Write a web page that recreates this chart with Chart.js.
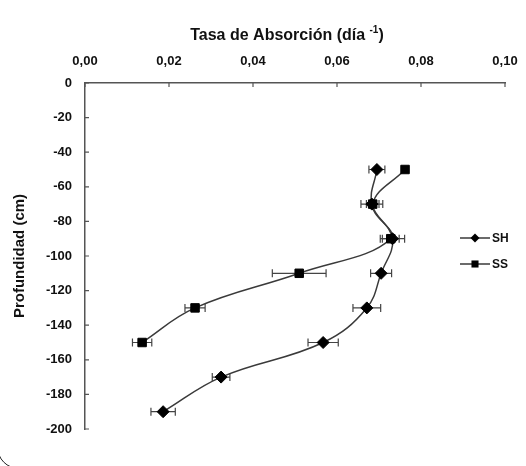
<!DOCTYPE html>
<html>
<head>
<meta charset="utf-8">
<script src="https://cdn.jsdelivr.net/npm/chart.js@4.4.1/dist/chart.umd.min.js"></script>
<style>
  html, body { margin: 0; padding: 0; background: #fff; overflow: hidden; }
  #wrap { position: relative; width: 526px; height: 466px; }
  #wrap canvas { position: absolute; left: 0; top: 0; }
  #frame {
    position: absolute; left: -3px; bottom: -3px; width: 640px; height: 640px;
    border: 1.5px solid #222; border-radius: 22px; box-sizing: border-box; pointer-events: none;
  }
</style>
</head>
<body>
<div id="wrap">
  <canvas id="c" width="526" height="466"></canvas>
  <div id="frame"></div>
</div>
<script>
// Depth (cm) of each sampling level
const shDepth = [-50, -70, -90, -110, -130, -150, -170, -190];
const ssDepth = [-50, -70, -90, -110, -130, -150];

// Absorption rate (day^-1) and its standard error
const shRate = [0.0695, 0.0683, 0.0732, 0.0705, 0.0671, 0.0567, 0.0324, 0.0186];
const shErr  = [0.0019, 0.0026, 0.0029, 0.0025, 0.0033, 0.0036, 0.0021, 0.0029];
const ssRate = [0.0762, 0.0685, 0.0728, 0.0510, 0.0262, 0.0136];
const ssErr  = [0.0000, 0.0015, 0.0020, 0.0064, 0.0024, 0.0023];

// Axis tick labels
const xTickLabels = ['0,00', '0,02', '0,04', '0,06', '0,08', '0,10'];
const yTickLabels = ['0', '-20', '-40', '-60', '-80', '-100', '-120', '-140', '-160', '-180', '-200'];

const seriesNames = ['SH', 'SS'];

const FONT = "'Liberation Sans', Arial, sans-serif";
const LINE = '#3a3a3a';
const AXIS = '#555555';

function toPoints(xs, ys, errs) {
  return xs.map((x, i) => ({ x: x, y: ys[i], err: errs[i] }));
}

// Horizontal error bars with end caps
const errorBars = {
  id: 'errorBars',
  beforeDatasetsDraw(chart) {
    const { ctx, scales: { x, y } } = chart;
    ctx.save();
    ctx.strokeStyle = '#444';
    ctx.lineWidth = 1.2;
    chart.data.datasets.forEach(ds => {
      ds.data.forEach(p => {
        if (!p.err) return;
        const py = y.getPixelForValue(p.y);
        const x1 = x.getPixelForValue(p.x - p.err);
        const x2 = x.getPixelForValue(p.x + p.err);
        ctx.beginPath();
        ctx.moveTo(x1, py); ctx.lineTo(x2, py);
        ctx.moveTo(x1, py - 4); ctx.lineTo(x1, py + 4);
        ctx.moveTo(x2, py - 4); ctx.lineTo(x2, py + 4);
        ctx.stroke();
      });
    });
    ctx.restore();
  }
};

function drawMarker(ctx, style, cx, cy, r) {
  ctx.beginPath();
  if (style === 'rectRot') {
    ctx.moveTo(cx - r, cy); ctx.lineTo(cx, cy - r);
    ctx.lineTo(cx + r, cy); ctx.lineTo(cx, cy + r);
  } else {
    const s = r * Math.SQRT1_2;
    ctx.rect(cx - s, cy - s, 2 * s, 2 * s);
  }
  ctx.closePath();
  ctx.fill();
}

// Titles, inward tick marks and the legend
const decorations = {
  id: 'decorations',
  afterDraw(chart) {
    const { ctx, chartArea: a, scales: { x, y } } = chart;
    ctx.save();

    // inward ticks
    ctx.strokeStyle = AXIS;
    ctx.lineWidth = 1.2;
    ctx.beginPath();
    x.ticks.forEach(t => {
      const px = x.getPixelForValue(t.value);
      ctx.moveTo(px, a.top); ctx.lineTo(px, a.top + 4);
    });
    y.ticks.forEach(t => {
      const py = y.getPixelForValue(t.value);
      ctx.moveTo(a.left, py); ctx.lineTo(a.left + 4, py);
    });
    ctx.stroke();

    // top title with superscript
    ctx.fillStyle = '#111';
    ctx.textBaseline = 'alphabetic';
    ctx.textAlign = 'left';
    const mainFont = 'bold 16px ' + FONT;
    const supFont = 'bold 10px ' + FONT;
    const part1 = 'Tasa de Absorción (día ';
    const sup = '-1';
    const part2 = ')';
    ctx.font = mainFont;
    const w1 = ctx.measureText(part1).width;
    const w3 = ctx.measureText(part2).width;
    ctx.font = supFont;
    const w2 = ctx.measureText(sup).width;
    const total = w1 + w2 + w3;
    let tx = 287 - total / 2;
    const ty = 40;
    ctx.font = mainFont;
    ctx.fillText(part1, tx, ty);
    ctx.font = supFont;
    ctx.fillText(sup, tx + w1, ty - 7);
    ctx.font = mainFont;
    ctx.fillText(part2, tx + w1 + w2, ty);

    // left axis title
    ctx.save();
    ctx.translate(20, (a.top + a.bottom) / 2);
    ctx.rotate(-Math.PI / 2);
    ctx.textAlign = 'center';
    ctx.textBaseline = 'middle';
    ctx.font = 'bold 15px ' + FONT;
    ctx.fillText('Profundidad (cm)', 0, 0);
    ctx.restore();

    // legend
    const lx = a.right - 45;
    const ly0 = 238;
    chart.data.datasets.forEach((ds, i) => {
      const ly = ly0 + i * 26;
      ctx.strokeStyle = LINE;
      ctx.lineWidth = 1.5;
      ctx.beginPath();
      ctx.moveTo(lx, ly); ctx.lineTo(lx + 30, ly);
      ctx.stroke();
      ctx.fillStyle = '#000';
      drawMarker(ctx, ds.pointStyle, lx + 15, ly, i === 0 ? 4.5 : 5);
      ctx.font = 'bold 12px ' + FONT;
      ctx.textAlign = 'left';
      ctx.textBaseline = 'middle';
      ctx.fillStyle = '#111';
      ctx.fillText(ds.label, lx + 32, ly + 1);
    });

    ctx.restore();
  }
};

new Chart(document.getElementById('c'), {
  type: 'scatter',
  data: {
    datasets: [
      {
        label: seriesNames[0],
        data: toPoints(shRate, shDepth, shErr),
        showLine: true,
        tension: 0.4,
        borderColor: LINE,
        borderWidth: 1.5,
        pointStyle: 'rectRot',
        pointRadius: 6,
        pointBackgroundColor: '#000',
        pointBorderColor: '#000',
        pointBorderWidth: 1
      },
      {
        label: seriesNames[1],
        data: toPoints(ssRate, ssDepth, ssErr),
        showLine: true,
        tension: 0.4,
        borderColor: LINE,
        borderWidth: 1.5,
        pointStyle: 'rect',
        pointRadius: 6,
        pointBackgroundColor: '#000',
        pointBorderColor: '#000',
        pointBorderWidth: 1
      }
    ]
  },
  options: {
    responsive: false,
    animation: false,
    layout: { padding: { left: 0, top: 0, right: 21, bottom: 37 } },
    plugins: {
      legend: { display: false },
      tooltip: { enabled: false },
      title: { display: false }
    },
    scales: {
      x: {
        type: 'linear',
        position: 'top',
        min: 0,
        max: 0.1,
        afterFit(scale) {
          scale.height = 83;
          scale.paddingLeft = 0;
          scale.paddingRight = 0;
        },
        afterBuildTicks(scale) {
          scale.ticks = xTickLabels.map((_, i) => ({ value: i * 0.02 }));
        },
        ticks: {
          padding: 14,
          color: '#111',
          font: { family: FONT, size: 13, weight: 'bold' },
          maxRotation: 0,
          callback: (v, i) => xTickLabels[i]
        },
        grid: { display: false, drawTicks: false },
        border: { display: true, color: AXIS, width: 1.5 }
      },
      y: {
        type: 'linear',
        position: 'left',
        min: -200,
        max: 0,
        afterFit(scale) {
          scale.width = 85;
          scale.paddingTop = 0;
          scale.paddingBottom = 0;
        },
        afterBuildTicks(scale) {
          scale.ticks = yTickLabels.map((_, i) => ({ value: -20 * i }));
        },
        ticks: {
          padding: 13,
          color: '#111',
          font: { family: FONT, size: 13, weight: 'bold' },
          callback: (v, i) => yTickLabels[i]
        },
        grid: { display: false, drawTicks: false },
        border: { display: true, color: AXIS, width: 1.5 }
      }
    }
  },
  plugins: [errorBars, decorations]
});
</script>
</body>
</html>
